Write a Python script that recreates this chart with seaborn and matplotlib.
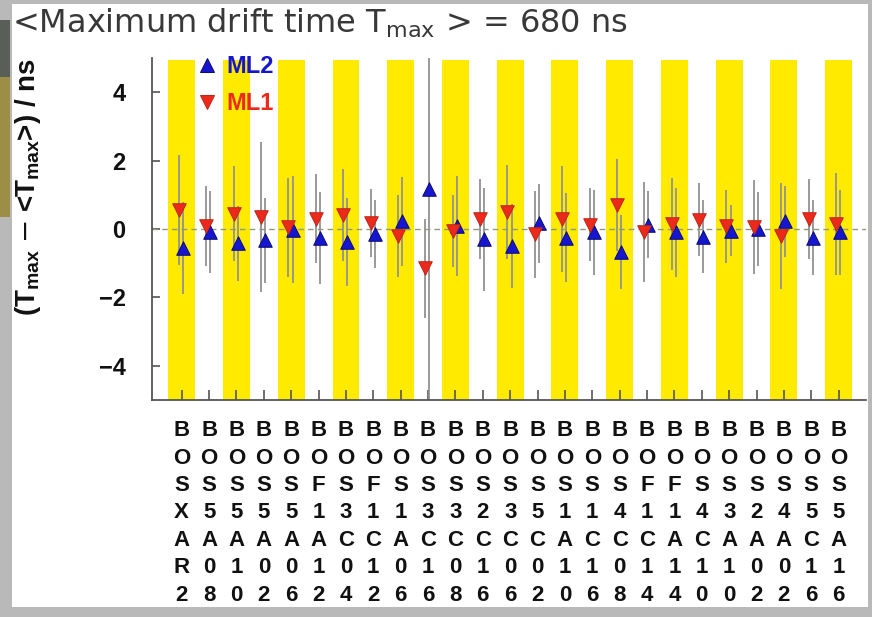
import matplotlib
matplotlib.use("Agg")
import matplotlib.pyplot as plt
import matplotlib.patches as mpatches
import seaborn as sns
import pandas as pd
import numpy as np

# ---------------- data ----------------
chambers = ["BOSXAR2", "BOS5A08", "BOS5A10", "BOS5A02", "BOS5A06", "BOF1A12",
            "BOS3C04", "BOF1C12", "BOS1A06", "BOS3C16", "BOS3C08", "BOS2C16",
            "BOS3C06", "BOS5C02", "BOS1A10", "BOS1C16", "BOS4C08", "BOF1C14",
            "BOF1A14", "BOS4C10", "BOS3A10", "BOS2A02", "BOS4A02", "BOS5C16",
            "BOS5A16"]
ml1_val = [0.55, 0.08, 0.45, 0.35, 0.05, 0.30, 0.40, 0.18, -0.20, -1.15, -0.05, 0.30,
           0.50, -0.15, 0.30, 0.12, 0.70, -0.08, 0.15, 0.27, 0.08, 0.05, -0.20, 0.28, 0.15]
ml1_err = [1.60, 1.17, 1.40, 2.20, 1.45, 1.30, 1.35, 1.00, 1.20, 1.45, 1.05, 1.17,
           1.37, 1.27, 1.55, 1.07, 1.35, 1.46, 1.35, 1.07, 1.07, 1.37, 1.55, 1.17, 1.50]
ml2_val = [-0.55, -0.08, -0.42, -0.33, -0.02, -0.27, -0.38, -0.15, 0.22, 1.17, 0.08, -0.30,
           -0.50, 0.17, -0.26, -0.10, -0.67, 0.12, -0.10, -0.22, -0.05, 0.00, 0.22, -0.25, -0.10]
ml2_err = [1.35, 1.20, 1.10, 1.25, 1.56, 1.34, 1.30, 1.00, 1.30, 7.00, 1.46, 1.50,
           1.22, 1.15, 1.30, 1.25, 1.07, 0.98, 1.30, 1.07, 0.75, 1.07, 1.03, 1.10, 1.25]
layers = ["ML2", "ML1"]
mean_tmax = 680

# ---------------- style ----------------
sns.set_theme(style="white")
plt.rcParams["font.family"] = ["DejaVu Sans"]
plt.rcParams["mathtext.fontset"] = "custom"
plt.rcParams["mathtext.rm"] = "DejaVu Sans"
plt.rcParams["mathtext.bf"] = "Liberation Sans:bold"

W, H = 872, 617
fig = plt.figure(figsize=(W / 100, H / 100), dpi=100, facecolor="#b9b9b9")

def px(x0, y0, x1, y1):
    return [x0 / W, 1 - y1 / H, (x1 - x0) / W, (y1 - y0) / H]

# slide background and left-edge artifacts
bg = fig.add_axes([0, 0, 1, 1], zorder=-10)
bg.set_xlim(0, W)
bg.set_ylim(H, 0)
bg.axis("off")
bg.add_patch(mpatches.Rectangle((12, 4), 856, 603, facecolor="white", edgecolor="none"))
bg.add_patch(mpatches.Rectangle((0, 20), 10, 57, facecolor="#5a5e58", edgecolor="none"))
bg.add_patch(mpatches.Rectangle((0, 77), 10, 140, facecolor="#9c8f45", edgecolor="none"))

ax = fig.add_axes(px(152, 58, 866, 400), zorder=1)
ax.set_facecolor("none")

n = len(chambers)
idx = np.arange(n)
off = {"ML1": -0.10, "ML2": 0.05}
df = pd.DataFrame({
    "pos": np.concatenate([idx + off["ML2"], idx + off["ML1"]]),
    "val": ml2_val + ml1_val,
    "err": ml2_err + ml1_err,
    "layer": ["ML2"] * n + ["ML1"] * n,
})

# yellow bands on every other chamber
for i in idx[::2]:
    ax.axvspan(i - 0.49, i + 0.49, ymax=0.995, color="#ffea00", lw=0, zorder=0)

ax.axhline(0, color="#8f9a7a", lw=1.0, ls=(0, (4, 3)), zorder=1)

ax.errorbar(df["pos"], df["val"], yerr=df["err"], fmt="none",
            ecolor="#929292", elinewidth=1.3, capsize=0, zorder=2)

colors = {"ML2": "#1616d0", "ML1": "#ec2a1c"}
edges = {"ML2": "#0a0a70", "ML1": "#c02414"}
markers = {"ML2": "^", "ML1": "v"}
for lay in layers:
    sub = df[df["layer"] == lay]
    sns.scatterplot(data=sub, x="pos", y="val", ax=ax, marker=markers[lay],
                    color=colors[lay], edgecolor=edges[lay], linewidth=0.7,
                    s=95, zorder=3, legend=False)

ax.set_xlim(-1.085, 25.0)
ax.set_ylim(-5, 5)
ax.set_xlabel("")
ax.set_ylabel("")
ax.set_xticks(idx)
ax.set_xticklabels(["\n".join(c) for c in chambers], fontfamily="Liberation Sans",
                   fontweight="bold", fontsize=16, linespacing=1.4, color="#111111")
ax.set_yticks([-4, -2, 0, 2, 4])
ax.set_yticklabels(["\u22124", "\u22122", "0", "2", "4"], fontfamily="Liberation Sans",
                   fontweight="bold", fontsize=17, color="#111111")
ax.tick_params(axis="x", direction="in", length=7, width=1.2, color="#555555", pad=14.5,
               bottom=True)
ax.tick_params(axis="y", direction="in", length=6, width=1.2, color="#555555", pad=19,
               left=True)
for s in ["top", "right"]:
    ax.spines[s].set_visible(False)
for s in ["left", "bottom"]:
    ax.spines[s].set_color("#555555")
    ax.spines[s].set_linewidth(1.3)

# legend
for lay, yy in [("ML2", 0.9795), ("ML1", 0.872)]:
    ax.plot([0.0766], [yy], marker=markers[lay], color=colors[lay], mec=edges[lay],
            mew=0.7, ms=9.5, transform=ax.transAxes, clip_on=False, zorder=4)
    ax.text(0.104, yy - 0.005, lay, transform=ax.transAxes, fontfamily="Liberation Sans",
            fontweight="bold", fontsize=17, color=colors[lay], va="center", ha="left",
            zorder=4)

# title and y label
fig.text(12 / W, 1 - 23 / H, r"<Maximum drift time T$_{\mathrm{max}}$ > = %d ns" % mean_tmax,
         fontsize=23, color="#383838", va="center", ha="left")
fig.text(28 / W, 1 - 58 / H, r"(T$_{\mathbf{max}}$ $-$ <T$_{\mathbf{max}}$>) / ns",
         rotation=90, fontfamily="Liberation Sans", fontweight="bold", fontsize=20,
         color="#111111", va="top", ha="center")

fig.savefig("out.png", dpi=100, facecolor=fig.get_facecolor())
